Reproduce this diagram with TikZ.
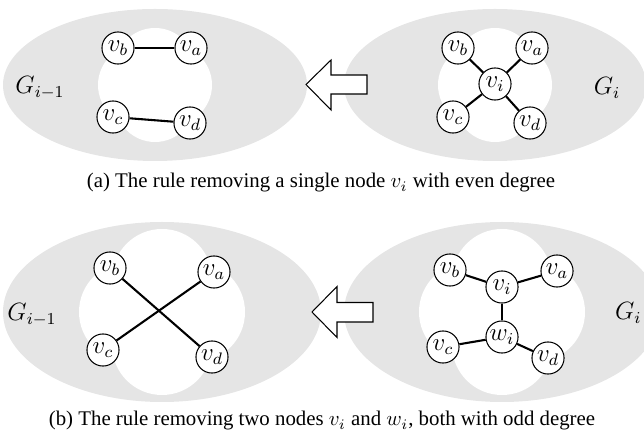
\documentclass[tikz,border=0pt]{standalone}
\usepackage{fontspec}
\setmainfont{Liberation Serif}
\begin{document}
\begin{tikzpicture}[x=0.48pt,y=-0.48pt,
  region/.style={fill=black!10},
  hole/.style={fill=white},
  vtx/.style={circle,draw,fill=white,minimum size=15.4pt,inner sep=0pt,line width=0.5pt,font=\large},
  link/.style={line width=1pt},
  shiftarrow/.style={draw,fill=white,line width=0.5pt,line join=miter},
  glabel/.style={font=\large},
  caption/.style={font=\normalsize}
]
\useasboundingbox (0,0) rectangle (644,437);

% grey graph regions
\fill[region] (155,85) ellipse [x radius=152, y radius=76];
\fill[region] (495,85) ellipse [x radius=151, y radius=76];
\fill[region] (162,312) ellipse [x radius=159, y radius=90];
\fill[region] (502,312) ellipse [x radius=158, y radius=90];

% white neighbourhoods: four overlapping discs each
\foreach \cx/\cy/\d/\r in {155/85/17/40, 495/85/17/40, 162/312/33/50, 502/312/33/50}{
  \fill[hole] (\cx-\d,\cy) circle [radius=\r];
  \fill[hole] (\cx+\d,\cy) circle [radius=\r];
  \fill[hole] (\cx,\cy-\d) circle [radius=\r];
  \fill[hole] (\cx,\cy+\d) circle [radius=\r];
}

% block arrows pointing from G_i to G_{i-1}
\draw[shiftarrow] (306,84.5) -- (331,60) -- (331,75) -- (367,75) -- (367,94) -- (331,94) -- (331,110) -- cycle;
\draw[shiftarrow] (312,312) -- (337,286.5) -- (337,302.5) -- (373,302.5) -- (373,322) -- (337,322) -- (337,337.5) -- cycle;

% (a) left: G_{i-1}
\node[vtx] (ab1) at (118,48) {$v_b$};
\node[vtx] (aa1) at (191,48) {$v_a$};
\node[vtx] (ac1) at (113,117) {$v_c$};
\node[vtx] (ad1) at (190,123) {$v_d$};
\node[glabel] (ag1) at (40,88) {$G_{i-1}$};

% (a) right: G_i
\node[vtx] (ab2) at (458,48) {$v_b$};
\node[vtx] (aa2) at (532,48) {$v_a$};
\node[vtx] (ai2) at (495,84) {$v_i$};
\node[vtx] (ac2) at (453,117) {$v_c$};
\node[vtx] (ad2) at (530,123) {$v_d$};
\node[glabel] (ag2) at (607,88) {$G_i$};

% (b) left: G_{i-1}
\node[vtx] (bb1) at (110,268) {$v_b$};
\node[vtx] (ba1) at (214,272) {$v_a$};
\node[vtx] (bc1) at (103,350) {$v_c$};
\node[vtx] (bd1) at (212,357) {$v_d$};
\node[glabel] (bg1) at (32,315) {$G_{i-1}$};

% (b) right: G_i
\node[vtx] (bb2) at (450,270) {$v_b$};
\node[vtx] (ba2) at (557,271) {$v_a$};
\node[vtx] (bi2) at (502,287) {$v_i$};
\node[vtx] (bw2) at (502,337) {$w_i$};
\node[vtx] (bc2) at (443,347) {$v_c$};
\node[vtx] (bd2) at (548,358) {$v_d$};
\node[glabel,anchor=east,inner sep=1pt] (bg2) at (644,313) {$G_i$};

% edges
\draw[link] (ab1) -- (aa1);
\draw[link] (ac1) -- (ad1);
\draw[link] (ai2) -- (aa2);
\draw[link] (ai2) -- (ab2);
\draw[link] (ai2) -- (ac2);
\draw[link] (ai2) -- (ad2);
\draw[link] (bb1) -- (bd1);
\draw[link] (ba1) -- (bc1);
\draw[link] (bi2) -- (bb2);
\draw[link] (bi2) -- (ba2);
\draw[link] (bi2) -- (bw2);
\draw[link] (bw2) -- (bc2);
\draw[link] (bw2) -- (bd2);

% captions
\node[caption] (capa) at (321,183) {(a) The rule removing a single node $v_i$ with even degree};
\node[caption] (capb) at (322,421) {(b) The rule removing two nodes $v_i$ and $w_i$, both with odd degree};
\end{tikzpicture}
\end{document}
